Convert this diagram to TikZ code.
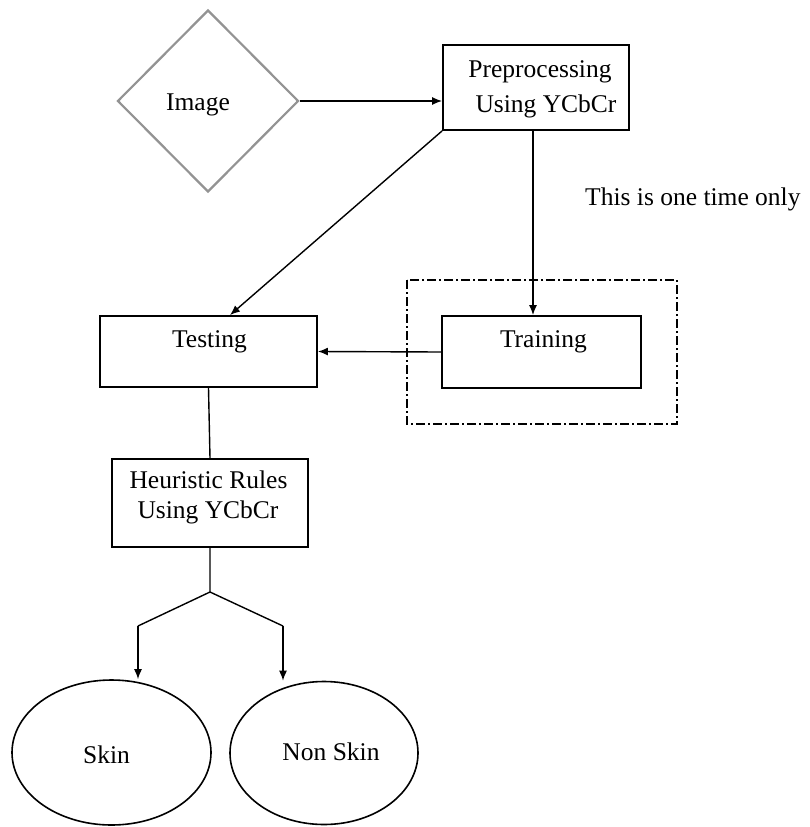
\documentclass[tikz,border=0pt]{standalone}
\usepackage{fontspec}
\setmainfont{Liberation Serif}
\usetikzlibrary{arrows.meta,shapes.geometric}
\begin{document}
\begin{tikzpicture}[x=1pt,y=-1pt,
  box/.style={draw=black,line width=1.8pt,rectangle,inner sep=0pt},
  lbl/.style={font=\fontsize{25.5}{30}\selectfont,inner sep=0pt,anchor=base},
  conn/.style={line width=1.4pt},
  arr/.style={conn,-{Latex[length=10pt,width=8pt]}},
  oval/.style={draw=black,line width=1.6pt,ellipse,inner sep=0pt}]
\useasboundingbox (0,0) rectangle (809,827);
% diamond
\node[draw=gray!85,line width=2.2pt,diamond,minimum width=181pt,minimum height=182pt,inner sep=0pt] (img) at (208,101) {};
\node[lbl] (imgt) at (198,110) {Image};
% boxes
\node[box,minimum width=186pt,minimum height=85pt] (pre) at (536,87.5) {};
\node[lbl] (pret1) at (540,77) {Preprocessing};
\node[lbl] (pret2) at (546,112) {Using YCbCr};
\draw[line width=1.4pt,dash pattern=on 9pt off 3pt on 2pt off 3pt] (407,280) rectangle (677,424);
\node[box,minimum width=199pt,minimum height=72pt] (train) at (541.5,352) {};
\node[lbl] (traint) at (543.5,347) {Training};
\node[box,minimum width=217pt,minimum height=71pt] (test) at (208.5,351.5) {};
\node[lbl] (testt) at (209.5,347) {Testing};
\node[box,minimum width=196pt,minimum height=88pt] (heur) at (210,503) {};
\node[lbl] (heurt1) at (208.5,488) {Heuristic Rules};
\node[lbl] (heurt2) at (208,518) {Using YCbCr};
\node[lbl,anchor=base west] (note) at (585,205) {This is one time only};
% ellipses
\node[oval,minimum width=199pt,minimum height=145pt] (skin) at (111.5,752.5) {};
\node[lbl] (skint) at (106.5,763) {Skin};
\node[oval,minimum width=188pt,minimum height=143pt] (nonskin) at (324,753) {};
\node[lbl] (nonskint) at (331,760) {Non Skin};
% connectors
\coordinate (j) at (210,592);
\coordinate (jl) at (138,626);
\coordinate (jr) at (283,626);
\draw[arr] (img.east) -- (pre.west |- img.east);
\draw[arr] (pre.south west) -- (test.north -| 230,0);
\draw[arr] (pre.south -| 533,0) -- (train.north -| 533,0);
\draw[arr] (train.west) -- (test.east);
\draw[conn] (test.south) -- (heur.north);
\draw[conn] (heur.south) -- (j) -- (jl);
\draw[conn] (j) -- (jr);
\draw[arr] (jl) -- (jl |- skin.north);
\draw[arr] (jr) -- (jr |- nonskin.north);
\end{tikzpicture}
\end{document}
